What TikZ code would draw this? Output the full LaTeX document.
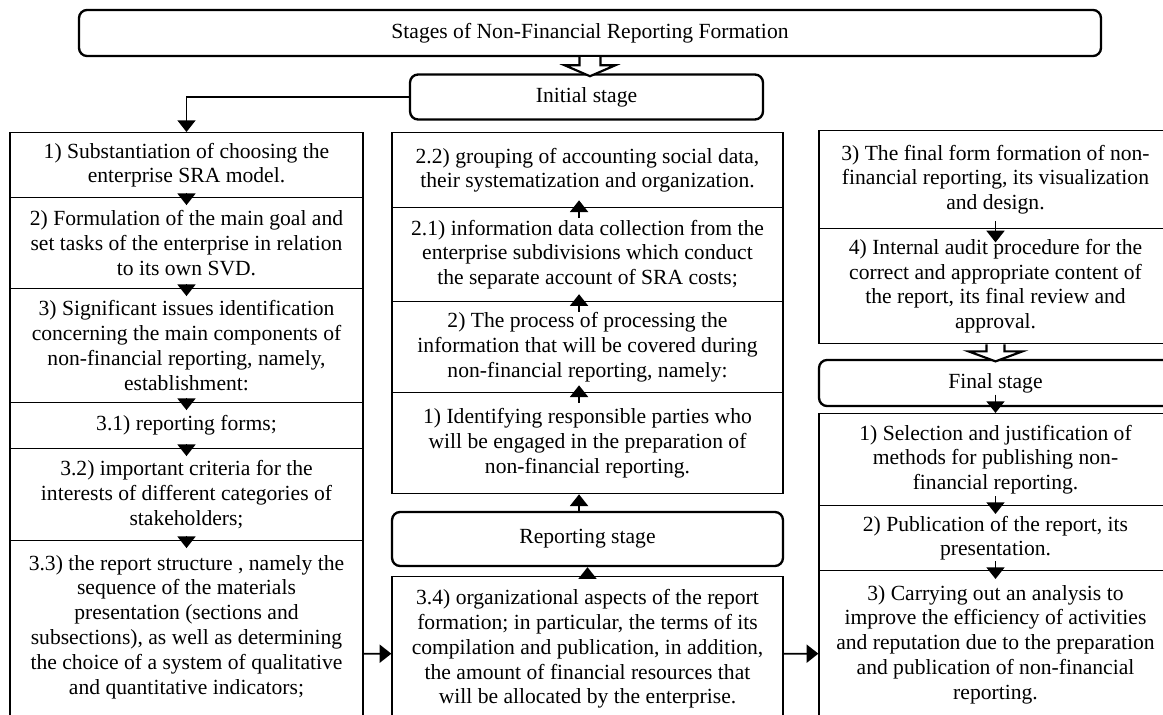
\documentclass[tikz,border=0pt]{standalone}
\usepackage{fontspec}
\setmainfont{Liberation Serif}
\usetikzlibrary{arrows.meta}
\tikzstyle{cell} = [draw, line width=0.75pt, minimum width=196.1pt, inner sep=2pt, anchor=north, align=center, font=\fontsize{12}{13.8}\selectfont]
\tikzstyle{midcell} = [cell, minimum width=217.2pt]
\tikzstyle{stage} = [draw, rounded corners=4.5pt, line width=1.3pt, align=center, font=\fontsize{12}{13.8}\selectfont]
\tikzstyle{txt} = [anchor=north, yshift=-8.2pt, inner sep=0pt, align=center, font=\fontsize{12}{13.8}\selectfont]
\tikzstyle{link} = [draw, line width=1pt, -{Triangle[length=6.5pt,width=10pt]}]
\tikzstyle{hollow} = [draw, line width=1.2pt, fill=white]

\begin{document}
\begin{tikzpicture}[x=0.5556pt, y=-0.5556pt]
\useasboundingbox (0,0) rectangle (1163,715);

\node[stage, minimum width=567.8pt, minimum height=25.6pt] (title) at (590,33) {Stages of Non-Financial Reporting Formation};
\node[stage, minimum width=196.1pt, minimum height=25pt] (init) at (586.5,97) {Initial stage};
\node[stage, minimum width=217.2pt, minimum height=30pt] (report) at (587.5,539) {Reporting stage};
\node[stage, minimum width=196.1pt, minimum height=25.6pt] (final) at (995.5,383) {Final stage};

% left column
\node[cell, minimum height=36.1pt] (c1) at (186.5,132) {1) Substantiation of  choosing  the\\ enterprise SRA model.};
\node[cell, minimum height=50.6pt] (c2) at (186.5,197) {2) Formulation of the main goal and\\ set tasks of the enterprise in relation\\ to its own SVD.};
\node[cell, minimum height=63.3pt] (c3) at (186.5,288) {3) Significant issues identification\\ concerning the main components of\\ non-financial reporting, namely,\\ establishment:};
\node[cell, minimum height=25.6pt] (c31) at (186.5,402) {3.1) reporting forms;};
\node[cell, minimum height=51.1pt] (c32) at (186.5,448) {3.2) important criteria for the\\ interests of different categories of\\ stakeholders;};
\node[cell, minimum height=125.6pt, label={[txt]north:{3.3) the report structure , namely the\\ sequence of the materials\\ presentation (sections and\\ subsections), as well as determining\\ the choice of a system of qualitative\\ and quantitative indicators;}}] (c33) at (186.5,540) {};

% middle column
\node[midcell, minimum height=41.7pt] (m22) at (587.5,132) {2.2) grouping of accounting social data,\\ their systematization and organization.};
\node[midcell, minimum height=52.2pt] (m21) at (587.5,207) {2.1) information data collection from the\\ enterprise subdivisions which conduct\\ the separate account of SRA costs;};
\node[midcell, minimum height=50.6pt] (m2) at (587.5,301) {2) The process of processing the\\ information that will be covered during\\ non-financial reporting, namely:};
\node[midcell, minimum height=56.1pt] (m1) at (587.5,392) {1) Identifying responsible parties who\\ will be engaged in the preparation of\\ non-financial reporting.};
\node[midcell, minimum height=85.6pt, label={[txt, yshift=1pt]north:{3.4) organizational aspects of the report\\ formation; in particular, the terms of its\\ compilation and publication, in addition,\\ the amount of financial resources that\\ will be allocated by the enterprise.}}] (m34) at (587.5,576) {};

% right column
\node[cell, minimum height=54.4pt] (r3) at (995.5,130) {3) The final form formation of non-\\ financial reporting, its visualization\\ and design.};
\node[cell, minimum height=63.9pt] (r4) at (995.5,228) {4) Internal audit procedure for the\\ correct and appropriate content of\\ the report, its final review and\\ approval.};
\node[cell, minimum height=51.1pt] (p1) at (995.5,413) {1) Selection and justification of\\ methods for publishing non-\\ financial reporting.};
\node[cell, minimum height=36.1pt] (p2) at (995.5,505) {2) Publication of the report, its\\ presentation.};
\node[cell, minimum height=92.2pt, label={[txt]north:{3) Carrying out an analysis to\\ improve the efficiency of activities\\ and reputation due to the preparation\\ and publication of non-financial\\ reporting.}}] (p3) at (995.5,570) {};

\draw[hollow] (title.south) ++(-10.5,0) -- ++(0,8) -- ++(-15,0) -- ++(25.5,11) -- ++(25.5,-11) -- ++(-15,0) -- ++(0,-8);
\draw[hollow] (r4.south) ++(-9,0) -- ++(0,7) -- ++(-18,0) -- ++(27,10) -- ++(27,-10) -- ++(-18,0) -- ++(0,-7);

\draw[link] (init.west) -| (c1.north);
\foreach \a/\b in {c1/c2, c2/c3, c3/c31, c31/c32, c32/c33}
  \draw[link] ([yshift=3pt]\a.south) -- ([yshift=-4.5pt]\b.north);
\foreach \a/\b in {m1/m2, m2/m21, m21/m22}
  \draw[link] ([xshift=-4.7pt,yshift=-6pt]\a.north) -- ([xshift=-4.7pt,yshift=4.5pt]\b.south);
\draw[link] ([xshift=-4.7pt]report.north) -- ([xshift=-4.7pt]m1.south);
\draw[link] (m34.north) -- (report.south);
\draw[link] ([yshift=4.5pt]r3.south) -- ([yshift=-8pt]r4.north);
\draw[link] ([yshift=7pt]final.south) -- (p1.north);
\foreach \a/\b in {p1/p2, p2/p3}
  \draw[link] ([yshift=5.5pt]\a.south) -- ([yshift=-5pt]\b.north);
\draw[link] (c33.east) -- (m34.west);
\draw[link] (m34.east) -- (p3.west);
\end{tikzpicture}
\end{document}
